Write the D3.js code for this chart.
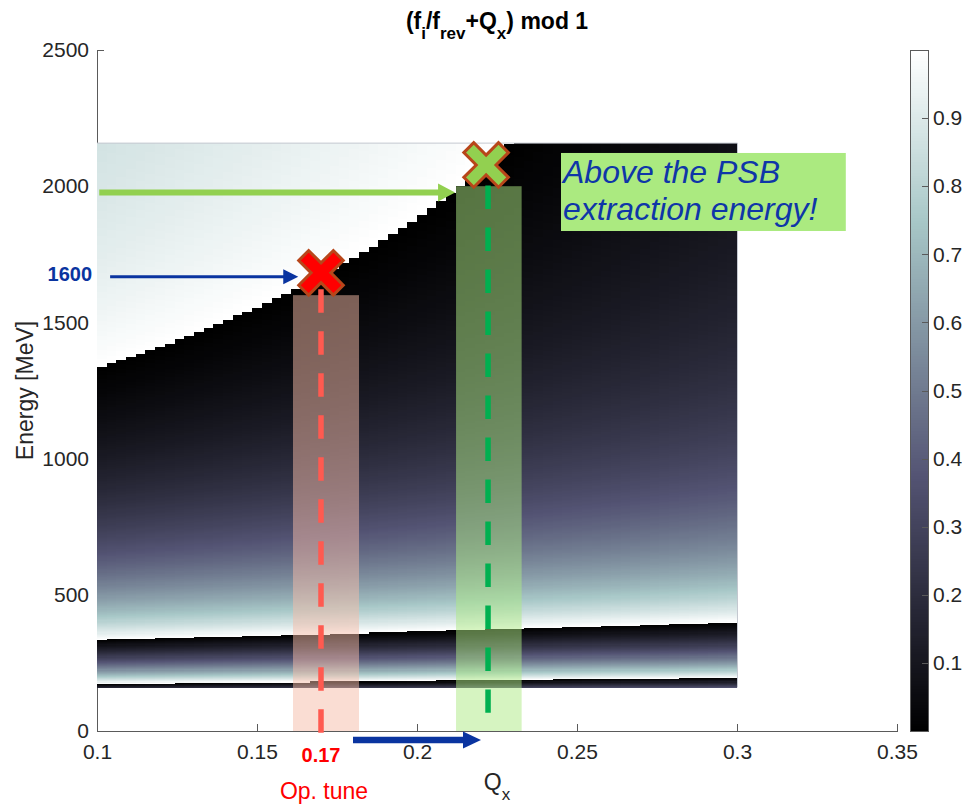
<!DOCTYPE html>
<html>
<head>
<meta charset="utf-8">
<script src="https://cdn.jsdelivr.net/npm/d3@7"></script>
<style>
  body { margin: 0; background: #fff; }
  svg { display: block; font-family: "Liberation Sans", Arial, Helvetica, sans-serif; }
</style>
</head>
<body>
<svg id="chart" width="962" height="805"></svg>
<script>
// ---- Scan grid: horizontal tune (columns) and kinetic energy (rows) ----
const qxEdges = d3.range(67).map(i => 0.1 + i * 0.2 / 66);      // 66 tune cells, 0.1 .. 0.3
const energyEdges = d3.range(160, 2160 + 1e-9, 4);              // MeV, 160 .. 2160

// ---- Machine constants used by (f_i/f_rev + Qx) mod 1 ----
const fiHz = 5.043e6;              // perturbation frequency f_i
const ringCircumference = 157.08;  // m
const speedOfLight = 299792458;    // m/s
const protonMass = 938.272;        // MeV

// ---- Axis ticks ----
const qxTicks = [0.1, 0.15, 0.2, 0.25, 0.3, 0.35];
const qxTickLabels = ["0.1", "0.15", "0.2", "0.25", "0.3", "0.35"];
const energyTicks = [0, 500, 1000, 1500, 2000, 2500];
const energyTickLabels = ["0", "500", "1000", "1500", "2000", "2500"];
const colorbarTicks = [0.1, 0.2, 0.3, 0.4, 0.5, 0.6, 0.7, 0.8, 0.9];
const colorbarTickLabels = ["0.1", "0.2", "0.3", "0.4", "0.5", "0.6", "0.7", "0.8", "0.9"];

// ---- Working points ----
const opTune = 0.17;                    // operational tune
const opEnergy = 1600;                  // MeV
const opBand = [0.16125, 0.181875];
const newTune = 0.2222;
const newEnergy = 2000;                 // MeV, extraction energy
const newBand = [0.2122, 0.2327];
const crossQx = [0.17, 0.2216];
const crossEnergy = [1682, 2078];
const opLineEnergy = [1622, -7.5];
const newLineEnergy = [2003, 67];
const opArrow = { qx: [0.1041, 0.1629], energy: 1668 };
const newArrow = { qx: [0.1007, 0.2119], energy: 1977 };
const tuneShiftArrow = { qx: [0.18, 0.22], energy: -33 };
const noteBox = { qx: [0.245, 0.334], energy: [2122, 1835.5] };
const noteLines = ["Above the PSB", "extraction energy!"];

// ---- Colour map (MATLAB "bone", 256 levels) ----
const clamp01 = v => Math.max(0, Math.min(1, v));
const boneColors = d3.range(256).map(k => {
  const t = k / 255;
  return d3.rgb(
    255 * (7 * t + clamp01((t - 0.75) / 0.25)) / 8,
    255 * (7 * t + clamp01((t - 0.375) / 0.375)) / 8,
    255 * (7 * t + clamp01(t / 0.375)) / 8
  ).formatHex();
});
const color = d3.scaleQuantize().domain([0, 1]).range(boneColors);

function tuneMod(qx, energy) {
  const gamma = 1 + energy / protonMass;
  const beta = Math.sqrt(1 - 1 / (gamma * gamma));
  const frev = beta * speedOfLight / ringCircumference;
  const v = fiHz / frev + qx;
  return v - Math.floor(v);
}

// ---- Layout ----
const svg = d3.select("#chart");
const x = d3.scaleLinear().domain([0.1, 0.35]).range([97, 897]);
const y = d3.scaleLinear().domain([0, 2500]).range([731, 50]);
const cbY = d3.scaleLinear().domain([0, 1]).range([731, 50]);
const cbX = [910, 928];
const axisColor = "#5a5a5a";
const textColor = "#262626";

// ---- Axes (drawn beneath the image) ----
const xAxis = svg.append("g").attr("transform", `translate(0,${y(0)})`)
  .call(d3.axisBottom(x).tickValues(qxTicks).tickFormat((d, i) => qxTickLabels[i])
    .tickSizeInner(-7).tickSizeOuter(0).tickPadding(13.5));
const yAxis = svg.append("g").attr("transform", `translate(${x(0.1)},0)`)
  .call(d3.axisLeft(y).tickValues(energyTicks).tickFormat((d, i) => energyTickLabels[i])
    .tickSizeInner(-7).tickSizeOuter(0).tickPadding(8));
[xAxis, yAxis].forEach(a => {
  a.select(".domain").attr("stroke", axisColor).attr("shape-rendering", "crispEdges");
  a.selectAll(".tick line").attr("stroke", axisColor).attr("shape-rendering", "crispEdges");
  a.selectAll(".tick text").attr("fill", textColor).style("font-size", "21px")
    .style("font-family", '"Liberation Sans", Arial, sans-serif');
});

// ---- Heat map cells ----
const cells = [];
for (let i = 0; i < qxEdges.length - 1; i++) {
  for (let j = 0; j < energyEdges.length - 1; j++) {
    cells.push({
      q0: qxEdges[i], q1: qxEdges[i + 1],
      e0: energyEdges[j], e1: energyEdges[j + 1],
      v: tuneMod(qxEdges[i], (energyEdges[j] + energyEdges[j + 1]) / 2)
    });
  }
}
const lastQ = qxEdges[qxEdges.length - 1];
const lastE = energyEdges[energyEdges.length - 1];
svg.append("g").attr("shape-rendering", "crispEdges")
  .selectAll("rect").data(cells).join("rect")
  .attr("x", d => x(d.q0))
  .attr("y", d => y(d.e1))
  .attr("width", d => x(d.q1) - x(d.q0) + (d.q1 < lastQ ? 0.6 : 0))
  .attr("height", d => y(d.e0) - y(d.e1) + (d.e1 < lastE ? 0.6 : 0))
  .attr("fill", d => color(d.v));

// faint outline on the top and right edges of the image
svg.append("path")
  .attr("d", `M${x(0.1)},${y(lastE) + 0.5}H${x(lastQ) + 0.5}V${y(energyEdges[0])}`)
  .attr("fill", "none").attr("stroke", "#c4c8d0").attr("stroke-width", 1);

// ---- Colour bar ----
const cb = svg.append("g");
cb.append("g").attr("shape-rendering", "crispEdges")
  .selectAll("rect").data(boneColors).join("rect")
  .attr("x", cbX[0]).attr("width", cbX[1] - cbX[0])
  .attr("y", (c, k) => cbY((k + 1) / 256))
  .attr("height", (c, k) => cbY(k / 256) - cbY((k + 1) / 256) + 0.5)
  .attr("fill", c => c);
cb.append("rect").attr("x", cbX[0]).attr("y", cbY(1)).attr("width", cbX[1] - cbX[0])
  .attr("height", cbY(0) - cbY(1)).attr("fill", "none").attr("stroke", axisColor)
  .attr("shape-rendering", "crispEdges");
const cbAxis = cb.append("g").attr("transform", `translate(${cbX[1]},0)`)
  .call(d3.axisRight(cbY).tickValues(colorbarTicks).tickFormat((d, i) => colorbarTickLabels[i])
    .tickSizeInner(-6).tickSizeOuter(0).tickPadding(5));
cbAxis.select(".domain").remove();
cbAxis.selectAll(".tick line").attr("stroke", axisColor).attr("shape-rendering", "crispEdges");
cbAxis.selectAll(".tick text").attr("fill", textColor).style("font-size", "21px")
  .style("font-family", '"Liberation Sans", Arial, sans-serif');

// ---- Title and axis labels ----
// each segment: [text, isSubscript]
const titleParts = [["(f", false], ["i", true], ["/f", false], ["rev", true], ["+Q", false], ["x", true], [") mod 1", false]];
const title = svg.append("text").attr("x", x(0.225)).attr("y", 29)
  .attr("text-anchor", "middle").attr("fill", "#000").style("font-size", "23px").style("font-weight", "bold");
titleParts.forEach((p, i) => {
  const prevSub = i > 0 && titleParts[i - 1][1];
  title.append("tspan")
    .attr("dy", p[1] ? 10 : (prevSub ? -10 : 0))
    .style("font-size", p[1] ? "17px" : "23px")
    .text(p[0]);
});

const xLabel = svg.append("text").attr("x", x(0.225)).attr("y", 789.5)
  .attr("text-anchor", "middle").attr("fill", textColor).style("font-size", "23px");
xLabel.append("tspan").text("Q");
xLabel.append("tspan").attr("dy", 10).style("font-size", "17px").text("x");

svg.append("text").attr("transform", `translate(33,${(y(0) + y(2500)) / 2}) rotate(-90)`)
  .attr("text-anchor", "middle").attr("fill", textColor).style("font-size", "23px")
  .text("Energy [MeV]");

// ---- Working-point bands ----
svg.append("rect").attr("x", x(opBand[0])).attr("width", x(opBand[1]) - x(opBand[0]))
  .attr("y", y(opEnergy)).attr("height", y(0) - y(opEnergy))
  .attr("fill", "#f5bca8").attr("fill-opacity", 0.5);
svg.append("rect").attr("x", x(newBand[0])).attr("width", x(newBand[1]) - x(newBand[0]))
  .attr("y", y(newEnergy)).attr("height", y(0) - y(newEnergy))
  .attr("fill", "#aeea84").attr("fill-opacity", 0.5);

// ---- Dashed tune lines ----
svg.append("line").attr("x1", x(opTune)).attr("x2", x(opTune))
  .attr("y1", y(opLineEnergy[0])).attr("y2", y(opLineEnergy[1]))
  .attr("stroke", "#ff5a50").attr("stroke-width", 5.5).attr("stroke-dasharray", "23.5 18.5");
svg.append("line").attr("x1", x(newTune)).attr("x2", x(newTune))
  .attr("y1", y(newLineEnergy[0])).attr("y2", y(newLineEnergy[1]))
  .attr("stroke", "#00b050").attr("stroke-width", 5.5).attr("stroke-dasharray", "23.5 18.5");

// ---- Arrows ----
function arrow(a, shaft, headLen, headH, fill) {
  const x1 = x(a.qx[0]), x2 = x(a.qx[1]), yy = y(a.energy);
  svg.append("line").attr("x1", x1).attr("x2", x2 - headLen + 1).attr("y1", yy).attr("y2", yy)
    .attr("stroke", fill).attr("stroke-width", shaft);
  svg.append("path").attr("d", `M${x2},${yy}L${x2 - headLen},${yy - headH / 2}L${x2 - headLen},${yy + headH / 2}Z`)
    .attr("fill", fill);
}
arrow(newArrow, 6, 17, 18, "#92d050");
arrow(opArrow, 3, 15, 15, "#0a34a0");
arrow(tuneShiftArrow, 6.5, 18, 17, "#0a34a0");

svg.append("text").attr("x", x(opArrow.qx[0]) - 18).attr("y", y(opArrow.energy) + 4)
  .attr("text-anchor", "end").attr("fill", "#0a34a0")
  .style("font-size", "20px").style("font-weight", "bold").text(String(opEnergy));

svg.append("text").attr("x", x(opTune)).attr("y", 762).attr("text-anchor", "middle")
  .attr("fill", "#ff0000").style("font-size", "20px").style("font-weight", "bold").text(String(opTune));
svg.append("text").attr("x", x(opTune) + 3).attr("y", 799).attr("text-anchor", "middle")
  .attr("fill", "#ff0000").style("font-size", "23px").text("Op. tune");

// ---- Cross markers ----
const w = 7, L = 24.5;
const crossPath = `M${w},${-L}L${w},${-w}L${L},${-w}L${L},${w}L${w},${w}L${w},${L}L${-w},${L}L${-w},${w}L${-L},${w}L${-L},${-w}L${-w},${-w}L${-w},${-L}Z`;
const crossFill = ["#ff0000", "#92d050"];
svg.append("g").selectAll("path").data(crossQx).join("path")
  .attr("transform", (q, i) => `translate(${x(q)},${y(crossEnergy[i])}) rotate(45)`)
  .attr("d", crossPath)
  .attr("fill", (q, i) => crossFill[i])
  .attr("stroke", "#b8461a").attr("stroke-width", 3).attr("stroke-linejoin", "miter");

// ---- Note box ----
const bx = x(noteBox.qx[0]), by = y(noteBox.energy[0]);
svg.append("rect").attr("x", bx).attr("y", by)
  .attr("width", x(noteBox.qx[1]) - bx).attr("height", y(noteBox.energy[1]) - by)
  .attr("fill", "#abea80");
svg.append("g").selectAll("text").data(noteLines).join("text")
  .attr("x", bx + 2).attr("y", (t, i) => by + 30.5 + i * 36.5)
  .attr("fill", "#0f36a8").style("font-size", "32px").style("font-style", "italic")
  .text(t => t);
</script>
</body>
</html>
